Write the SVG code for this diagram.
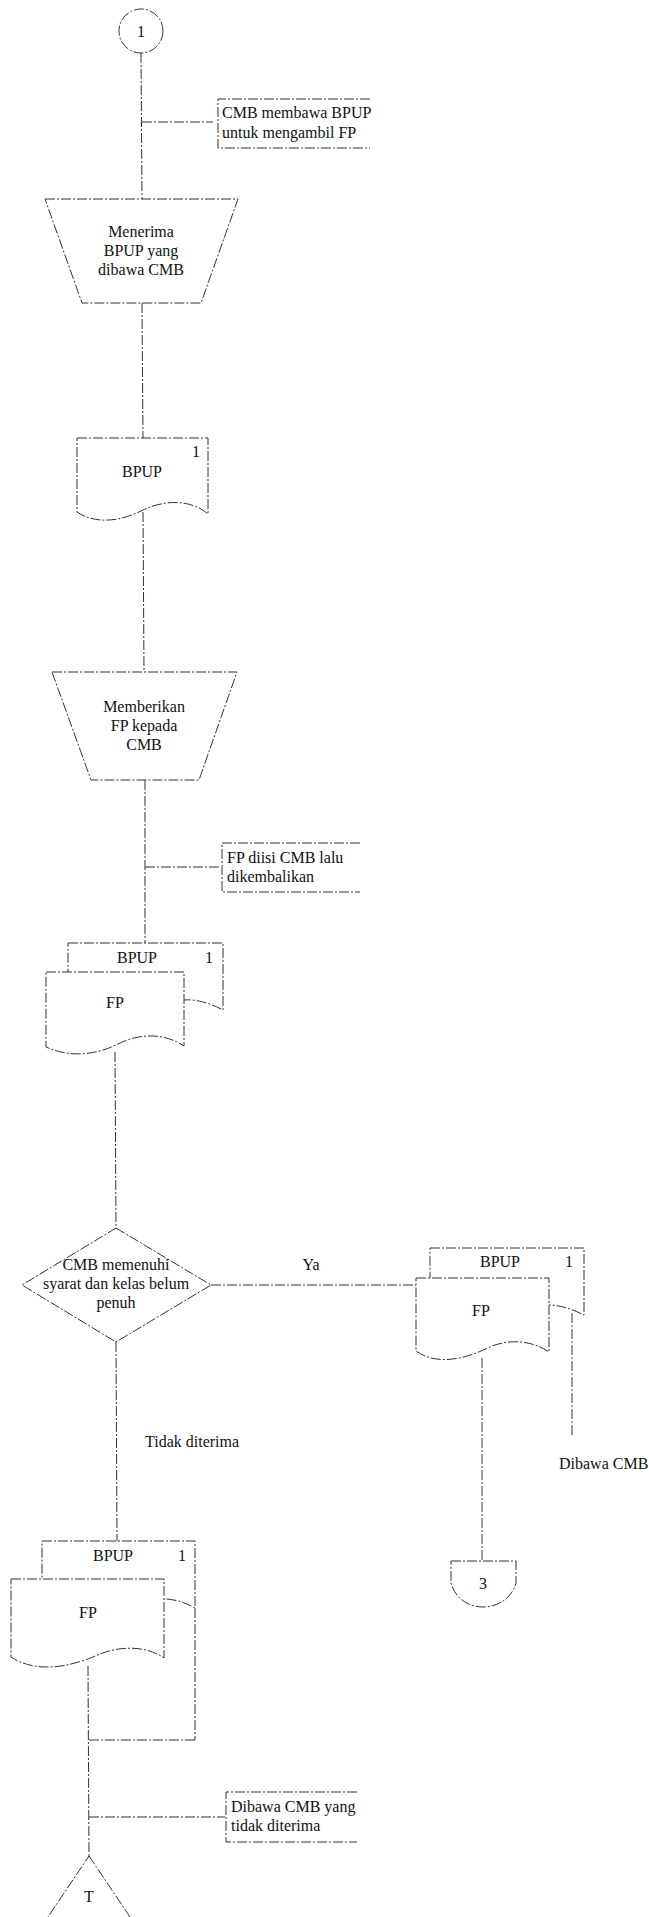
<svg xmlns="http://www.w3.org/2000/svg" width="649" height="1917" viewBox="0 0 649 1917">
<style>
.s{fill:#fff;stroke:#333;stroke-width:1;stroke-dasharray:10 2 2 2}
.c{fill:none;stroke:#333;stroke-width:1;stroke-dasharray:10 2 2 2}
.t{font-family:"Liberation Serif","Times New Roman",serif;font-size:16px;fill:#111}
.m{text-anchor:middle}
</style>
<rect width="649" height="1917" fill="#fff"/>
<g id="connectors">
<line class="c" x1="141" y1="53" x2="142" y2="199"/>
<line class="c" x1="142" y1="122" x2="213" y2="122"/>
<line class="c" x1="142" y1="303" x2="143" y2="438"/>
<line class="c" x1="143" y1="512" x2="144" y2="672"/>
<line class="c" x1="145" y1="780" x2="145" y2="943"/>
<line class="c" x1="145" y1="867" x2="220" y2="867"/>
<line class="c" x1="115" y1="1052" x2="116" y2="1228"/>
<line class="c" x1="211" y1="1285" x2="416" y2="1285"/>
<line class="c" x1="116" y1="1342" x2="117" y2="1541"/>
<line class="c" x1="482" y1="1358" x2="482" y2="1561"/>
<line class="c" x1="572" y1="1313" x2="572" y2="1436"/>
<line class="c" x1="195" y1="1608" x2="195" y2="1740"/>
<line class="c" x1="195" y1="1740" x2="88" y2="1740"/>
<line class="c" x1="88" y1="1666" x2="89" y2="1856"/>
<line class="c" x1="89" y1="1817" x2="225" y2="1817"/>
</g>
<g id="start1">
<circle class="s" cx="141" cy="31" r="22"/>
<text class="t m" x="141" y="37">1</text>
</g>
<g id="note1">
<path class="c" d="M370,99 H218 V148 H370"/>
<text class="t" x="222" y="118">CMB membawa BPUP</text>
<text class="t" x="222" y="138">untuk mengambil FP</text>
</g>
<g id="manual1">
<path class="s" d="M45,199 H238 L201,303 H82 Z"/>
<text class="t m" x="141" y="237">Menerima</text>
<text class="t m" x="141" y="256">BPUP yang</text>
<text class="t m" x="141" y="275">dibawa CMB</text>
</g>
<g id="doc-bpup1">
<path class="s" d="M77,438 H208 V514 C192,500 166,499 143,510 C122,521 96,525 77,512 Z"/>
<text class="t" x="192" y="457">1</text>
<text class="t m" x="142" y="477">BPUP</text>
</g>
<g id="manual2">
<path class="s" d="M52,672 H237 L199,780 H91 Z"/>
<text class="t m" x="144" y="712">Memberikan</text>
<text class="t m" x="144" y="731">FP kepada</text>
<text class="t m" x="144" y="750">CMB</text>
</g>
<g id="note2">
<path class="c" d="M360,843 H222 V892 H360"/>
<text class="t" x="227" y="863">FP diisi CMB lalu</text>
<text class="t" x="227" y="882">dikembalikan</text>
</g>
<g id="docs-a">
<path class="s" d="M68,943 H223 V1010 C210,1003 196,999 184,1000 L68,1000 Z"/>
<text class="t m" x="137" y="963">BPUP</text>
<text class="t" x="205" y="963">1</text>
<path class="s" d="M46,972 H184 V1046 C166,1034 142,1032 118,1044 C96,1055 70,1058 46,1047 Z"/>
<text class="t m" x="115" y="1008">FP</text>
</g>
<g id="decision">
<path class="s" d="M116,1228 L211,1285 L116,1342 L22,1285 Z"/>
<text class="t m" x="116" y="1270">CMB memenuhi</text>
<text class="t m" x="116" y="1289">syarat dan kelas belum</text>
<text class="t m" x="116" y="1308">penuh</text>
</g>
<text class="t m" x="311" y="1270">Ya</text>
<text class="t" x="145" y="1447">Tidak diterima</text>
<g id="docs-b">
<path class="s" d="M430,1248 H584 V1315 C572,1309 560,1305 549,1305 L430,1305 Z"/>
<text class="t m" x="500" y="1267">BPUP</text>
<text class="t" x="565" y="1267">1</text>
<path class="s" d="M416,1278 H549 V1352 C534,1342 514,1338 492,1346 C472,1356 440,1368 416,1351 Z"/>
<text class="t m" x="481" y="1316">FP</text>
</g>
<text class="t" x="559" y="1469">Dibawa CMB</text>
<g id="offpage3">
<path class="s" d="M451,1561 H516 V1583 C512,1598 498,1607 483,1607 C468,1607 455,1598 451,1583 Z"/>
<text class="t m" x="483" y="1589">3</text>
</g>
<g id="docs-c">
<path class="s" d="M42,1541 H195 V1608 C184,1602 174,1599 164,1599 L42,1599 Z"/>
<text class="t m" x="113" y="1561">BPUP</text>
<text class="t" x="178" y="1561">1</text>
<path class="s" d="M11,1579 H164 V1658 C150,1648 126,1644 100,1654 C78,1664 40,1676 11,1657 Z"/>
<text class="t m" x="88" y="1618">FP</text>
</g>
<g id="note3">
<path class="c" d="M357,1792 H226 V1842 H357"/>
<text class="t" x="231" y="1812">Dibawa CMB yang</text>
<text class="t" x="231" y="1831">tidak diterima</text>
</g>
<g id="terminal">
<path class="s" d="M89,1856 L159,1960 L19,1960 Z"/>
<text class="t m" x="89" y="1902">T</text>
</g>
</svg>
